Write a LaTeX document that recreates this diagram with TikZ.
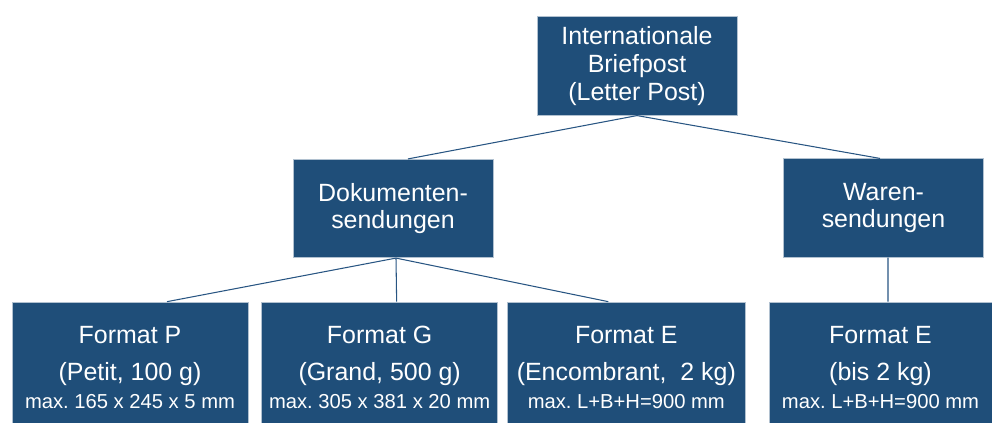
\documentclass[tikz,border=0pt]{standalone}
\usepackage{fontspec}
\setmainfont{Liberation Sans}
\usetikzlibrary{positioning}
\definecolor{boxblue}{RGB}{31,78,121}
\definecolor{edgeblue}{RGB}{40,85,130}

\begin{document}
\begin{tikzpicture}[
  x=0.02cm, y=-0.02cm,
  box/.style={draw=boxblue!35!white, line width=0.4pt, fill=boxblue, text=white, align=center,
    inner sep=0pt, font=\fontsize{14.2}{15.7}\selectfont},
  mid/.style={box, minimum width=4cm, minimum height=1.97cm},
  leaf/.style={box, minimum height=2.62cm, execute at begin node={\rule{0pt}{0.82cm}}},
  link/.style={draw=edgeblue, line width=0.6pt},
  node distance=0.26cm
]
  \useasboundingbox (0,0) rectangle (992,423);

  \node[mid] (post) at (637,66) {Internationale\\Briefpost\\(Letter Post)};
  \node[mid] (dok) at (393,208.5) {Dokumenten-\\sendungen};
  \node[mid] (waren) at (883.5,208) {Waren-\\sendungen};

  \node[leaf, minimum width=4.72cm] (fp) at (130,367.5)
    {Format P\\[5.5pt](Petit, 100 g)\\[0.4pt]{\fontsize{11.5}{13}\selectfont max.\ 165 x 245 x 5 mm}};
  \node[leaf, minimum width=4.72cm, right=of fp] (fg)
    {Format G\\[5.5pt](Grand, 500 g)\\[0.4pt]{\fontsize{11.5}{13}\selectfont max.\ 305 x 381 x 20 mm}};
  \node[leaf, minimum width=4.76cm, right=0.18cm of fg] (fe)
    {Format E\\[5.5pt](Encombrant,\ \ 2 kg)\\[0.4pt]{\fontsize{11.5}{13}\selectfont max.\ L+B+H=900 mm}};
  \node[leaf, minimum width=4.46cm] (fe2) at (880.5,367.5)
    {Format E\\[5.5pt](bis 2 kg)\\[0.4pt]{\fontsize{11.5}{13}\selectfont max.\ L+B+H=900 mm}};

  \draw[link] (post.south) -- ([xshift=0.3cm]dok.north);
  \draw[link] (post.south) -- ([xshift=-0.07cm]waren.north);
  \draw[link] ([xshift=0.06cm]dok.south) -- ([xshift=0.74cm]fp.north);
  \draw[link] ([xshift=0.06cm]dok.south) -- ([xshift=0.34cm]fg.north);
  \draw[link] ([xshift=0.06cm]dok.south) -- ([xshift=-0.36cm]fe.north);
  \draw[link] ([xshift=0.09cm]waren.south) -- ([xshift=0.15cm]fe2.north);
\end{tikzpicture}
\end{document}
